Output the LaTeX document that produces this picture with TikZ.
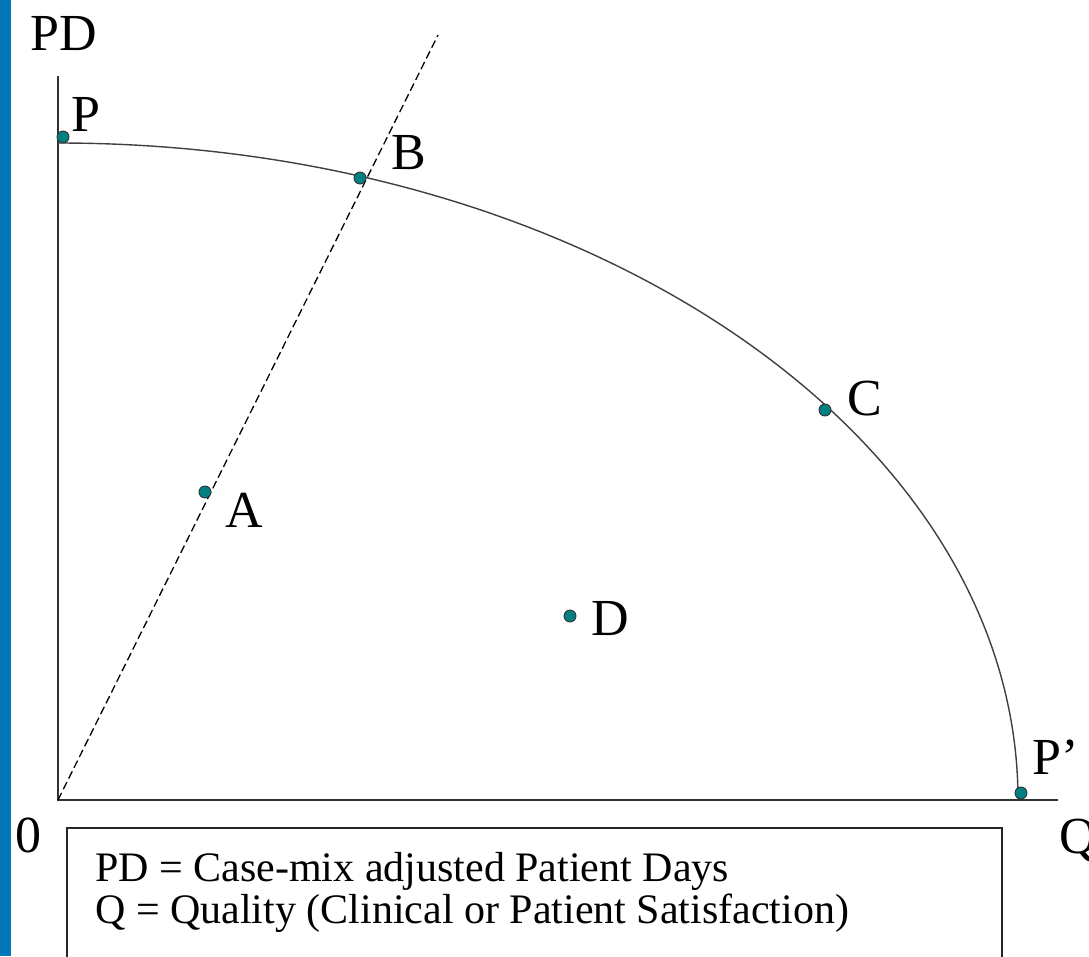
\documentclass[tikz,border=0pt]{standalone}
\usepackage{fontspec}
\setmainfont{Liberation Serif}
\definecolor{barblue}{RGB}{0,119,182}
\definecolor{dotteal}{RGB}{0,128,128}
\definecolor{axisgray}{RGB}{50,50,50}
\tikzset{
  dot/.style={circle,fill=dotteal,draw=black!80,line width=0.9pt,inner sep=0pt,minimum size=12pt},
  lbl/.style={anchor=base west,inner sep=0pt,font=\fontsize{52}{60}\selectfont},
  axlbl/.style={anchor=base west,inner sep=0pt,font=\fontsize{52}{60}\selectfont},
  legendtext/.style={anchor=base west,inner sep=0pt,font=\fontsize{42}{50}\selectfont},
  axisline/.style={draw=axisgray,line width=2pt},
}
\begin{document}
\begin{tikzpicture}[x=1pt,y=-1pt]
\useasboundingbox (0,0) rectangle (1089,956);
\fill[white] (0,0) rectangle (1089,956);
\fill[barblue] (0,0) rectangle (11,956);
% axes
\coordinate (O) at (58,800);
\coordinate (Ytop) at (58,76);
\coordinate (Xend) at (1058,800);
\draw[axisline] (Ytop) -- (O) -- (Xend);
% frontier
\draw[draw=black!75,line width=1.4pt] (58,143) arc[start angle=90,end angle=0,x radius=960,y radius=-657];
% ray
\coordinate (Rend) at (438,35);
\draw[black,line width=1.3pt,dash pattern=on 8pt off 4pt] (O) -- (Rend);
% points
\node[dot] (P) at (63,137) {};
\node[dot] (B) at (360,178) {};
\node[dot] (C) at (825,410) {};
\node[dot] (A) at (205,492) {};
\node[dot] (D) at (570,616) {};
\node[dot] (Pp) at (1021,793) {};
% labels
\node[axlbl] (PDl) at (30,50) {PD};
\node[axlbl] (Zl) at (15,852) {0};
\node[axlbl] (Ql) at (1059,853) {Q};
\node[lbl] (Pl) at (71,131) {P};
\node[lbl] (Bl) at (391,169) {B};
\node[lbl] (Cl) at (847,415) {C};
\node[lbl] (Al) at (225,527) {A};
\node[lbl] (Dl) at (591,635) {D};
\node[lbl] (Ppl) at (1032,774) {P’};
% legend box
\draw[draw=black!85,line width=1.6pt] (67,1000) -- (67,828) -- (1002,828) -- (1002,1000);
\node[legendtext] (L1) at (95,881) {PD = Case-mix adjusted Patient Days};
\node[legendtext] (L2) at (95,923) {Q = Quality (Clinical or Patient Satisfaction)};
\end{tikzpicture}
\end{document}
